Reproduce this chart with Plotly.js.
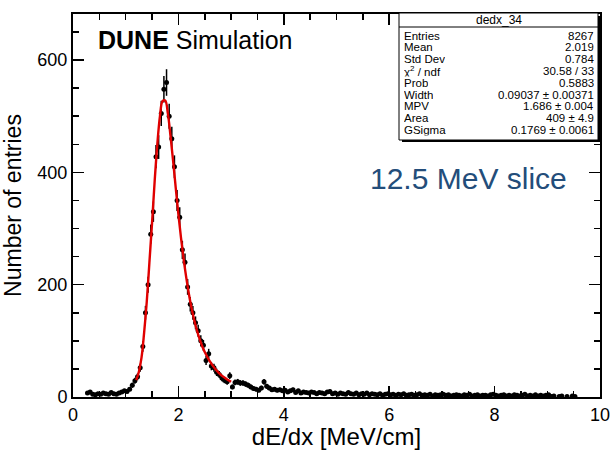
<!DOCTYPE html>
<html><head><meta charset="utf-8">
<script src="https://cdn.plot.ly/plotly-3.0.1.min.js"></script>
<style>html,body{margin:0;padding:0;background:#fff;}#chart{width:613px;height:450px;}</style>
</head><body><div id="chart"></div>
<script>
// Histogram bin centres (bin width 0.05 MeV/cm) and entries
const binCenters = [0.275,0.325,0.375,0.425,0.475,0.525,0.575,0.625,0.675,0.725,0.775,0.825,0.875,0.925,0.975,
1.025,1.075,1.125,1.175,1.225,1.275,1.325,1.375,1.425,1.475,1.525,1.575,1.625,1.675,1.725,1.775,1.825,1.875,1.925,1.975,
2.025,2.075,2.125,2.175,2.225,2.275,2.325,2.375,2.425,2.475,2.525,2.575,2.625,2.675,2.725,2.775,2.825,2.875,2.925,2.975,
3.025,3.075,3.125,3.175,3.225,3.275,3.325,3.375,3.425,3.475,3.525,3.575,3.625,3.675,3.725,3.775,3.825,3.875,3.925,3.975,
4.025,4.075,4.125,4.175,4.225,4.275,4.325,4.375,4.425,4.475,4.525,4.575,4.625,4.675,4.725,4.775,4.825,4.875,4.925,4.975,
5.025,5.075,5.125,5.175,5.225,5.275,5.325,5.375,5.425,5.475,5.525,5.575,5.625,5.675,5.725,5.775,5.825,5.875,5.925,5.975,
6.025,6.075,6.125,6.175,6.225,6.275,6.325,6.375,6.425,6.475,6.525,6.575,6.625,6.675,6.725,6.775,6.825,6.875,6.925,6.975,
7.025,7.075,7.125,7.175,7.225,7.275,7.325,7.375,7.425,7.475,7.525,7.575,7.625,7.675,7.725,7.775,7.825,7.875,7.925,7.975,
8.025,8.075,8.125,8.175,8.225,8.275,8.325,8.375,8.425,8.475,8.525,8.575,8.625,8.675,8.725,8.775,8.825,8.875,8.925,8.975,
9.025,9.075,9.125,9.225,9.275,9.375,9.475,9.525];
const binCounts = [7,9,5,4,6,5,7,6,5,8,6,5,7,9,11,
10,14,21,29,36,52,90,150,200,290,330,428,445,505,548,560,500,460,410,350,
320,262,240,196,165,150,132,118,100,92,65,77,55,52,44,40,34,30,27,38,
18,26,27,25,25,23,21,18,15,14,12,16,27,19,16,13,14,12,13,11,
12,9,11,13,8,11,7,9,8,7,9,8,6,8,7,6,9,10,6,7,
5,7,6,5,8,6,5,7,4,6,5,7,4,6,5,4,6,3,5,6,
4,5,3,5,4,6,3,4,5,3,4,6,3,4,3,5,2,4,3,4,
5,3,4,2,3,4,3,2,4,3,5,2,3,4,2,3,3,2,4,5,
3,2,3,4,2,3,2,4,3,2,3,5,2,3,2,4,2,3,2,3,
4,1,2,1,2,1,2,1];

// Landau x Gaussian fit curve
const fitX = [1.2,1.25,1.3,1.35,1.4,1.45,1.5,1.55,1.6,1.65,1.7,1.75,1.8,1.85,1.9,1.95,2.0,2.05,2.1,2.15,2.2,2.25,2.3,2.35,2.4,2.45,2.5,2.6,2.7,2.8,2.9,3.0];
const fitY = [30,45,70,115,170,240,310,385,450,500,527,528,505,465,420,372,325,283,245,212,183,158,137,119,104,91,80,63,50,40,33,27];

const statLabels = ["Entries","Mean","Std Dev","\u03c7<sup>2</sup> / ndf","Prob","Width","MPV","Area","GSigma"];
const statValues = ["8267","2.019","0.784","30.58 / 33","0.5883","0.09037 \u00b1 0.00371","1.686 \u00b1 0.004","409 \u00b1 4.9","0.1769 \u00b1 0.0061"];
const statTitle = "dedx_34";

const L=73, R=600, T=14, B=397;
const px = x => (x-L)/(R-L);
const py = y => (B-y)/(B-T);
const FF = 'Liberation Sans, Arial, sans-serif';

const traces = [
  {x:binCenters, y:binCounts, type:'scatter', mode:'markers',
   marker:{color:'#000', size:5},
   error_y:{type:'sqrt', color:'#000', thickness:1.5, width:0},
   error_x:{type:'constant', value:0.025, color:'#000', thickness:1.5, width:0},
   hoverinfo:'x+y', showlegend:false},
  {x:fitX, y:fitY, type:'scatter', mode:'lines', line:{color:'#e00000', width:2.4, shape:'spline'}, showlegend:false}
];

const shapes = [
  {type:'rect', xref:'paper', yref:'paper', x0:px(402), x1:px(601), y0:py(142), y1:py(16), fillcolor:'#000', line:{width:0}},
  {type:'rect', xref:'paper', yref:'paper', x0:px(399), x1:px(598), y0:py(140), y1:py(13), fillcolor:'#fff', line:{color:'#000', width:1}},
  {type:'line', xref:'paper', yref:'paper', x0:px(399), x1:px(598), y0:py(27), y1:py(27), line:{color:'#000', width:1}}
];

const annotations = [
  {xref:'paper', yref:'paper', x:px(96), y:py(40), xanchor:'left', yanchor:'middle', showarrow:false,
   text:'<b>DUNE</b> Simulation', font:{family:FF, size:25, color:'#000'}},
  {xref:'paper', yref:'paper', x:px(569), y:py(178), xanchor:'right', yanchor:'middle', showarrow:false,
   text:'12.5 MeV slice', font:{family:FF, size:30, color:'#234d7a'}},
  {xref:'paper', yref:'paper', x:px(499), y:py(20), xanchor:'center', yanchor:'middle', showarrow:false,
   text:statTitle, font:{family:FF, size:12, color:'#000'}, borderpad:0}
];
statLabels.forEach((lab,i)=>{
  const yy = 35.5 + i*11.8;
  annotations.push({xref:'paper', yref:'paper', x:px(403), y:py(yy), xanchor:'left', yanchor:'middle', showarrow:false,
    text:lab, font:{family:FF, size:11.5, color:'#000'}, height:11.5, borderpad:0});
  annotations.push({xref:'paper', yref:'paper', x:px(595), y:py(yy), xanchor:'right', yanchor:'middle', showarrow:false,
    text:statValues[i], font:{family:FF, size:11.5, color:'#000'}, height:11.5, borderpad:0});
});

const axFont = {family:FF, size:18, color:'#000'};
const layout = {
  width:613, height:450,
  margin:{l:L, r:613-R, t:T, b:450-B},
  paper_bgcolor:'#fff', plot_bgcolor:'#fff',
  font:{family:FF},
  xaxis:{range:[0,10], tick0:0, dtick:2, ticks:'inside', ticklen:11, tickwidth:1.5, tickcolor:'#000',
    minor:{dtick:0.5, ticks:'inside', ticklen:6, tickwidth:1.5, tickcolor:'#000'},
    showline:true, linecolor:'#000', linewidth:2, mirror:'ticks', showgrid:false, zeroline:false,
    tickfont:axFont, title:{text:'dE/dx [MeV/cm]', font:{family:FF, size:24, color:'#000'}, standoff:10}},
  yaxis:{range:[0,682], tick0:0, dtick:200, ticks:'inside', ticklen:11, tickwidth:1.5, tickcolor:'#000',
    minor:{dtick:50, ticks:'inside', ticklen:6, tickwidth:1.5, tickcolor:'#000'},
    showline:true, linecolor:'#000', linewidth:2, mirror:'ticks', showgrid:false, zeroline:false,
    tickfont:axFont, title:{text:'Number of entries', font:{family:FF, size:23, color:'#000'}, standoff:10}},
  shapes:shapes, annotations:annotations
};
Plotly.newPlot('chart', traces, layout, {staticPlot:true, displayModeBar:false});
</script></body></html>
